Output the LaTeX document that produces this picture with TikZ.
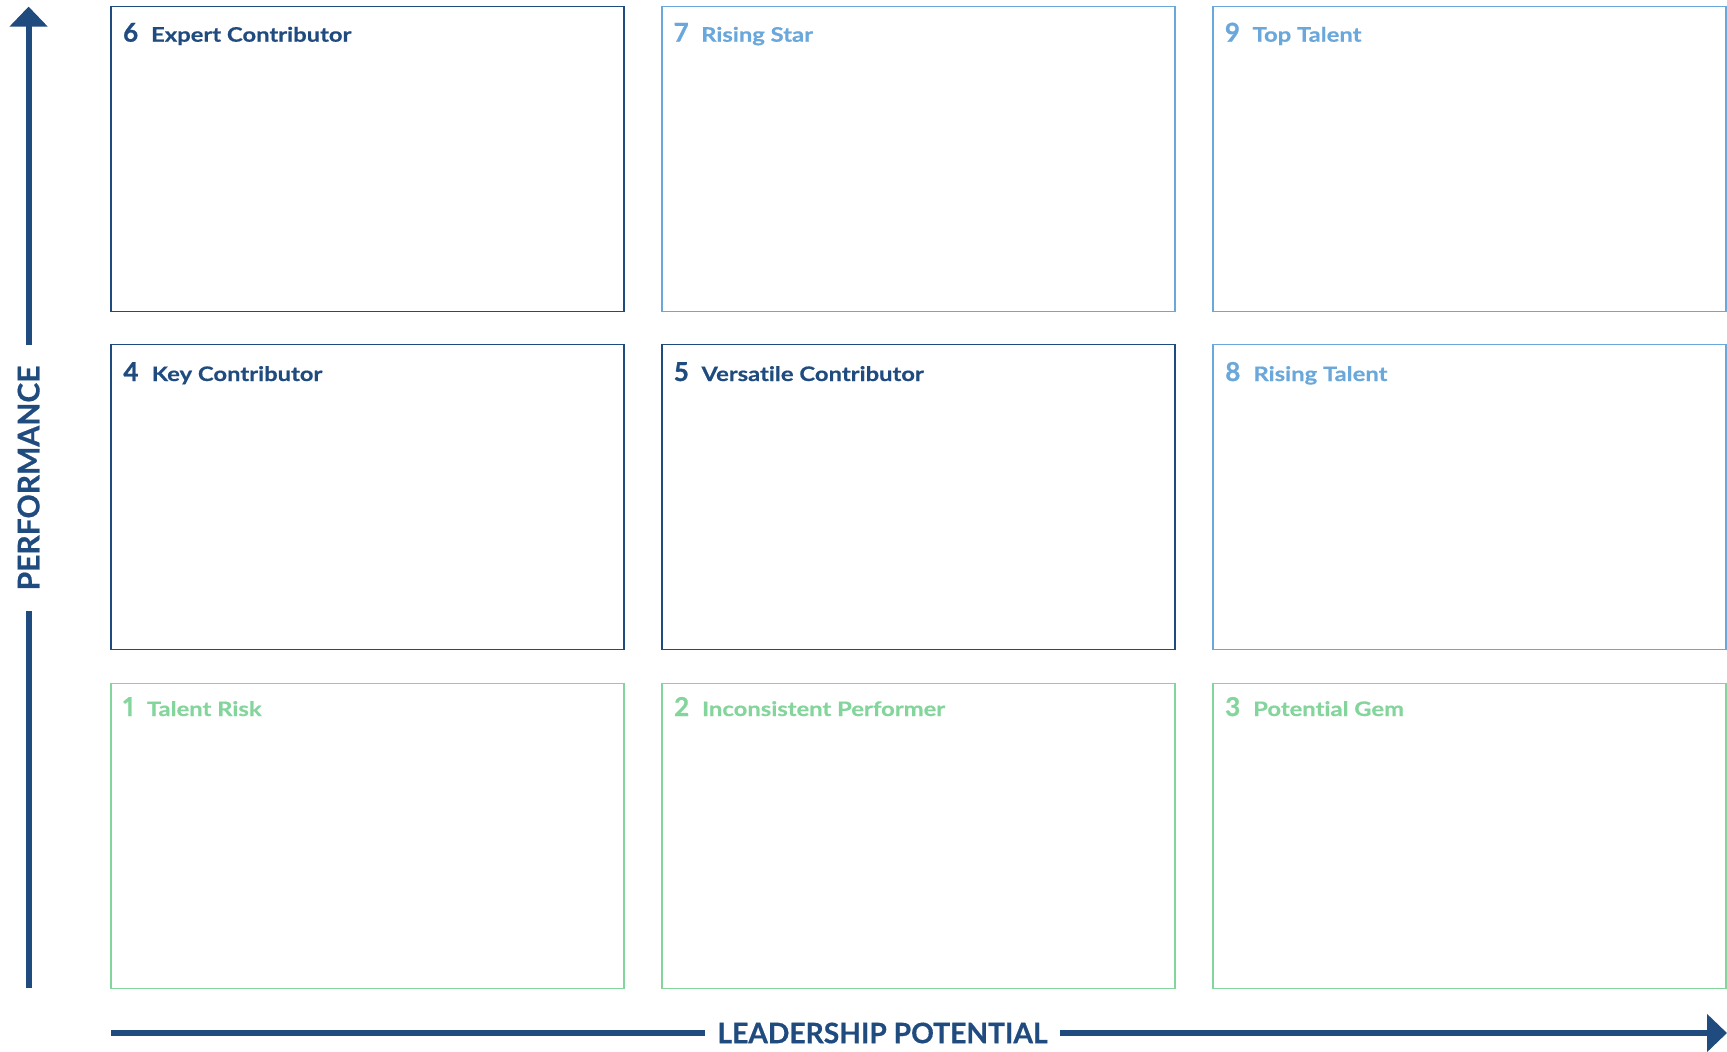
\documentclass[tikz,border=0pt]{standalone}
\usepackage{fontspec}
\setmainfont{Lato}[Numbers=Proportional]
\newfontfamily\titlefont{Lato}[Numbers=Proportional, Ligatures=NoCommon, BoldFeatures={FakeStretch=1.19, FakeBold=0.5}]
\newfontfamily\numfont{Lato}[Numbers=Proportional, BoldFeatures={FakeBold=0.9}]
\newfontfamily\axisfont{Lato}[Ligatures=NoCommon, BoldFeatures={FakeBold=0.6}]
\usetikzlibrary{arrows.meta,calc}

\definecolor{navyc}{HTML}{1F4B7E}
\definecolor{skyc}{HTML}{6AA7DA}
\definecolor{mintc}{HTML}{84D59C}

\tikzset{
  cell/.style={draw=#1, line width=1.8pt, minimum width=513pt, minimum height=305pt,
    anchor=north west, outer sep=0pt, inner sep=0pt},
  celltitle/.style={text=#1, anchor=base west, inner sep=0pt},
  axislabel/.style={text=navyc, font=\axisfont\bfseries\fontsize{28.2}{28.2}\selectfont, inner ysep=0pt},
  axisline/.style={draw=navyc, line width=6pt},
  axishead/.style={-{Triangle[width=37pt,length=20pt]}}
}
\newcommand{\celltext}[2]{{\numfont\bfseries\fontsize{26}{26}\selectfont #1}\hspace{13pt}{\titlefont\bfseries\fontsize{20}{20}\selectfont #2}}

\begin{document}
\begin{tikzpicture}[x=1pt,y=-1pt]
\useasboundingbox (0,0) rectangle (1727,1052);

% grid of nine cells
\node[cell=navyc] (b6) at (111,6.5) {};
\node[cell=skyc]  (b7) at (662,6.5) {};
\node[cell=skyc]  (b9) at (1213,6.5) {};
\node[cell=navyc] (b4) at (111,344.5) {};
\node[cell=navyc] (b5) at (662,344.5) {};
\node[cell=skyc]  (b8) at (1213,344.5) {};
\node[cell=mintc] (b1) at (111,683.5) {};
\node[cell=mintc] (b2) at (662,683.5) {};
\node[cell=mintc] (b3) at (1213,683.5) {};

% cell titles
\node[celltitle=navyc] (t6) at ($(b6.north west)+(12,35.2)$) {\celltext{6}{Expert Contributor}};
\node[celltitle=skyc]  (t7) at ($(b7.north west)+(12,35.2)$) {\celltext{7}{Rising Star}};
\node[celltitle=skyc]  (t9) at ($(b9.north west)+(12,35.2)$) {\celltext{9}{Top Talent}};
\node[celltitle=navyc] (t4) at ($(b4.north west)+(12,36.5)$) {\celltext{4}{Key Contributor}};
\node[celltitle=navyc] (t5) at ($(b5.north west)+(12,36.5)$) {\celltext{5}{Versatile Contributor}};
\node[celltitle=skyc]  (t8) at ($(b8.north west)+(12,36.5)$) {\celltext{8}{Rising Talent}};
\node[celltitle=mintc] (t1) at ($(b1.north west)+(12,32.5)$) {\celltext{1}{Talent Risk}};
\node[celltitle=mintc] (t2) at ($(b2.north west)+(12,32.5)$) {\celltext{2}{Inconsistent Performer}};
\node[celltitle=mintc] (t3) at ($(b3.north west)+(12,32.5)$) {\celltext{3}{Potential Gem}};

% vertical axis
\coordinate (ybot) at (28.6,988);
\coordinate (ytop) at (28.6,6.6);
\node[axislabel, rotate=90, inner xsep=20pt, font=\axisfont\bfseries\fontsize{30}{30}\selectfont] (perf) at (28.6,478) {PERFORMANCE};
\draw[axisline] (ybot) -- (perf.west);
\draw[axisline, axishead] (perf.east) -- (ytop);

% horizontal axis
\coordinate (xleft) at (111,1033);
\coordinate (xright) at (1727,1033);
\node[axislabel, inner xsep=12pt] (lead) at (882.5,1033) {LEADERSHIP POTENTIAL};
\draw[axisline] (xleft) -- (lead.west);
\draw[axisline, axishead] (lead.east) -- (xright);
\end{tikzpicture}
\end{document}
